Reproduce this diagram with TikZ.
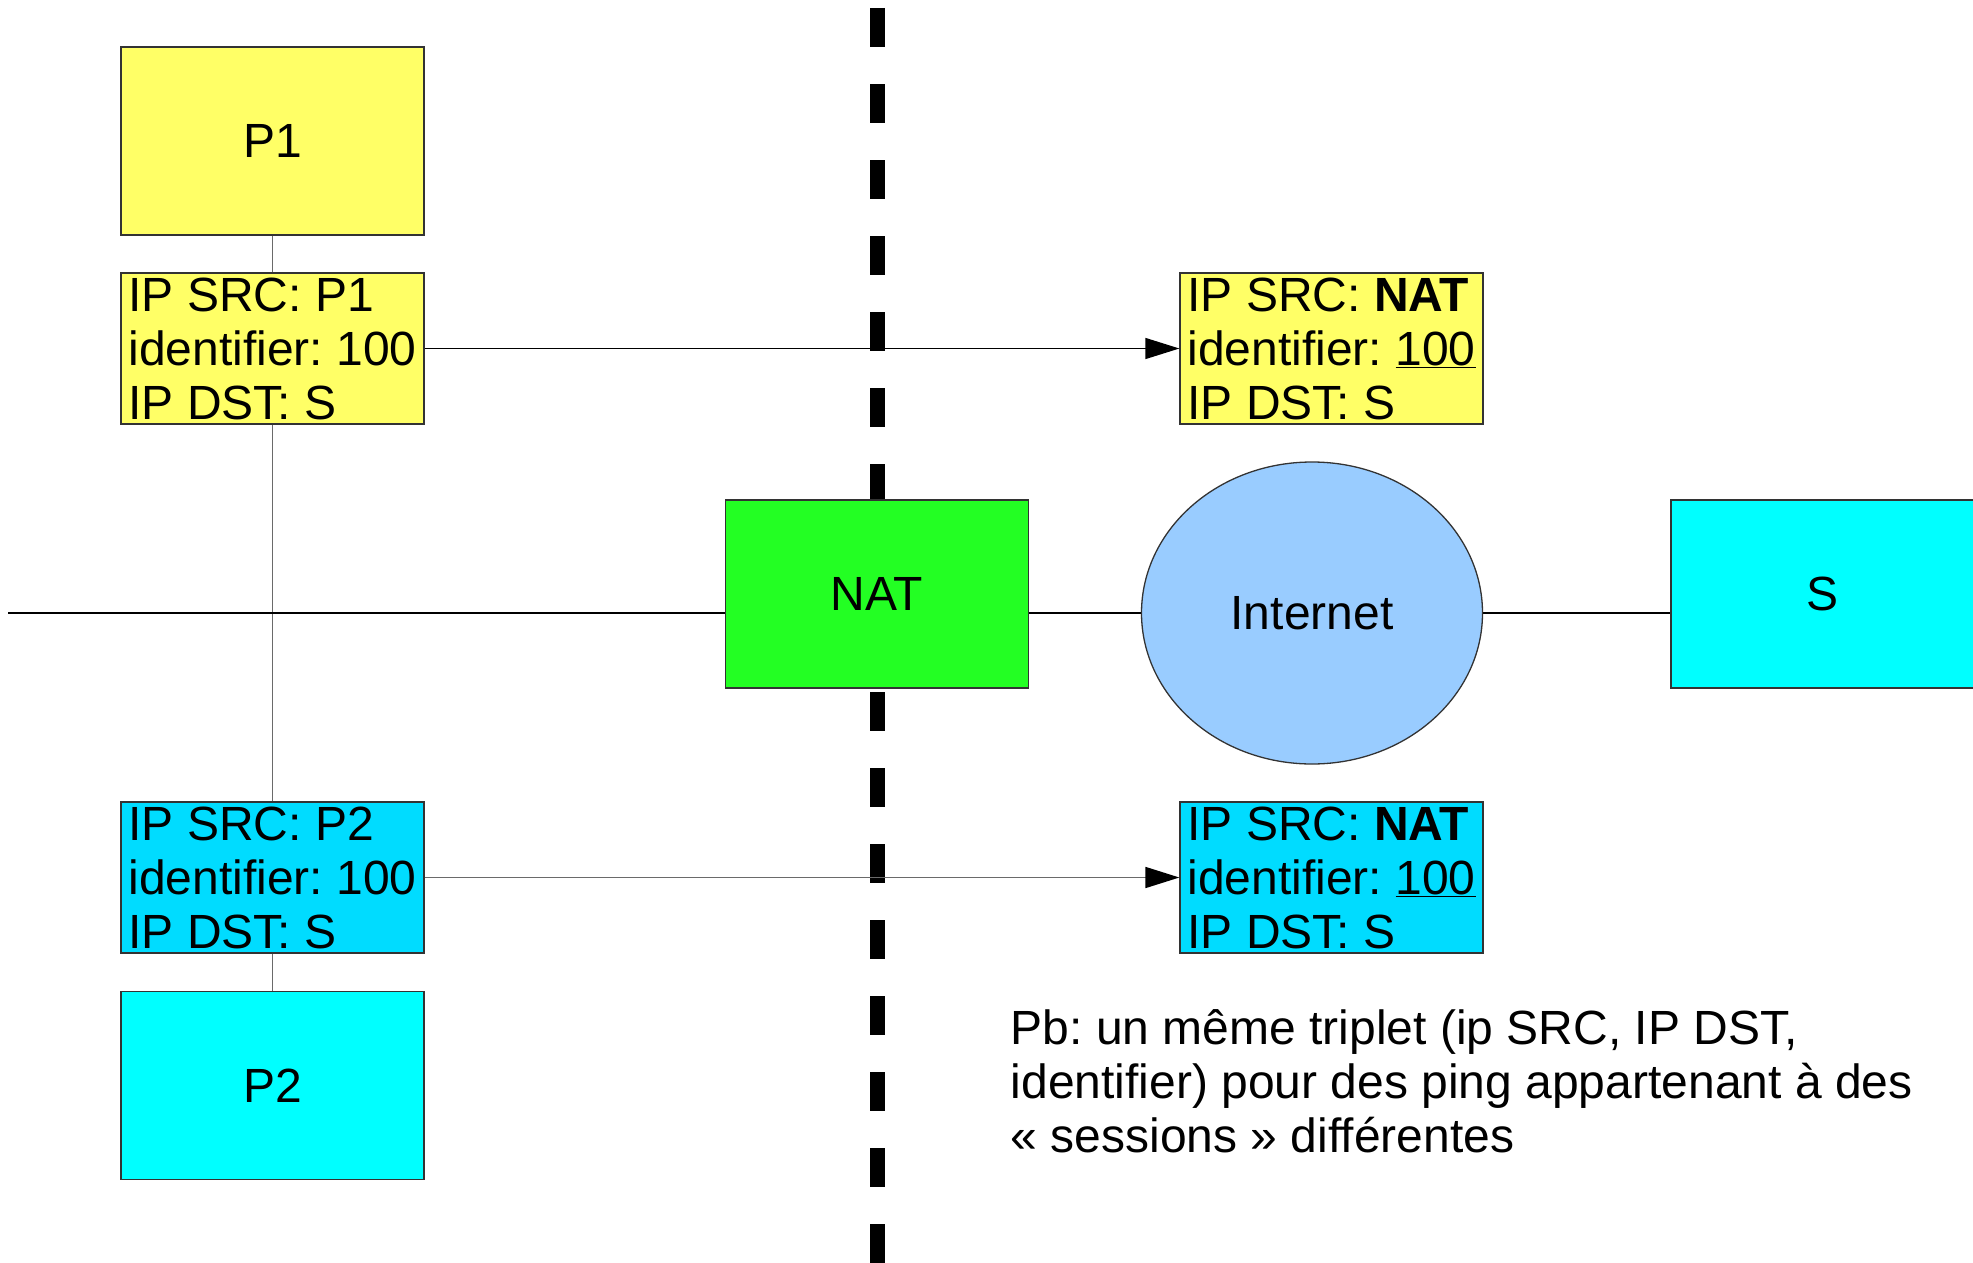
\documentclass[tikz,border=0pt]{standalone}
\usepackage{fontspec}
\setmainfont{Liberation Sans}
\usetikzlibrary{arrows.meta,shapes.geometric}
\pgfdeclarelayer{background}
\pgfsetlayers{background,main}
\frenchspacing
\definecolor{yel}{HTML}{FFFF66}
\definecolor{grn}{HTML}{23FF23}
\definecolor{sky}{HTML}{99CCFF}
\definecolor{cyn}{HTML}{00FFFF}
\definecolor{pcyn}{HTML}{00DCFF}
\definecolor{bord}{HTML}{333333}
\definecolor{wire}{HTML}{6A6A6A}
\begin{document}
\begin{tikzpicture}[x=1pt,y=-1pt,
  bigfont/.style={font=\fontsize{48}{54}\selectfont\frenchspacing},
  hostbox/.style={draw=bord,line width=1.3pt,rectangle,minimum width=303pt,minimum height=188pt,inner sep=0pt,bigfont},
  pktbox/.style={draw=bord,line width=1.3pt,rectangle,minimum width=303pt,minimum height=151pt,inner sep=0pt,align=left,bigfont},
  cloud/.style={draw=bord,line width=1.3pt,ellipse,minimum width=341pt,minimum height=302pt,inner sep=0pt,fill=sky,bigfont},
  graywire/.style={draw=wire,line width=1.7pt},
  blackwire/.style={draw=black,line width=1.3pt},
  tip/.style={-{Triangle[length=34pt,width=21pt,color=black]}}
]
\useasboundingbox (0,0) rectangle (1973,1263);
% dashed separator
\coordinate (dtop) at (877,8);
\coordinate (dbot) at (877,1263);
\draw[line width=15pt,dash pattern=on 39pt off 37pt] (dtop) -- (dbot);
% nodes
\node[hostbox,fill=yel] (P1) at (272.5,141) {P1};
\node[hostbox,fill=cyn] (P2) at (272.5,1085.5) {P2};
\node[pktbox,fill=yel] (pk1) at (272.5,348.5) {IP SRC: P1\\identifier: 100\\IP DST: S};
\node[pktbox,fill=pcyn] (pk2) at (272.5,877.5) {IP SRC: P2\\identifier: 100\\IP DST: S};
\node[pktbox,fill=yel] (nk1) at (1331.5,348.5) {IP SRC: \textbf{NAT}\\identifier: \underline{100}\\IP DST: S};
\node[pktbox,fill=pcyn] (nk2) at (1331.5,877.5) {IP SRC: \textbf{NAT}\\identifier: \underline{100}\\IP DST: S};
\node[hostbox,fill=grn] (NAT) at (877,594) {NAT};
\node[cloud] (inet) at (1312,613) {Internet};
\node[hostbox,fill=cyn] (S) at (1822.5,594) {S};
\coordinate (lanend) at (8,613);
\node[align=left,anchor=north west,inner sep=0pt,bigfont] (note) at (1010.5,1009) {Pb: un même triplet (ip SRC, IP DST,\\identifier) pour des ping appartenant à des\\« sessions » différentes};
% connectors behind the boxes
\begin{pgfonlayer}{background}
\draw[graywire] (P1.south) -- (pk1.north);
\draw[graywire] (pk1.south) -- (pk2.north);
\draw[graywire] (pk2.south) -- (P2.north);
\draw[blackwire] (lanend) -- (NAT.west |- lanend);
\draw[blackwire] (NAT.west |- lanend) -- (NAT.east |- lanend);
\draw[blackwire] (NAT.east |- lanend) -- (inet.west);
\draw[blackwire] (inet.east) -- (S.west |- inet.east);
\end{pgfonlayer}
% arrows
\draw[blackwire,tip] (pk1.east) -- (nk1.west);
\draw[graywire,tip] (pk2.east) -- (nk2.west);
\end{tikzpicture}
\end{document}
